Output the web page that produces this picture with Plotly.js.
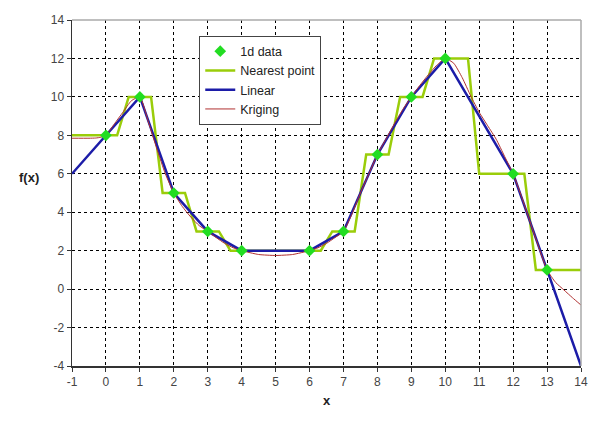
<!DOCTYPE html>
<html>
<head>
<meta charset="utf-8">
<script src="https://cdn.plot.ly/plotly-3.0.1.min.js"></script>
<style>html,body{margin:0;padding:0;background:#fff;}#chart{width:600px;height:423px;}</style>
</head>
<body>
<div id="chart"></div>
<script>
// 1d data points
const dataX = [0, 1, 2, 3, 4, 6, 7, 8, 9, 10, 12, 13];
const dataY = [8, 10, 5, 3, 2, 2, 3, 7, 10, 12, 6, 1];

// Nearest point (sampled step function corners)
const nearestX = [-1, 0.33, 0.67, 1.33, 1.67, 2.33, 2.67, 3.33, 3.67, 6.33, 6.67, 7.33, 7.67, 8.33, 8.67, 9.33, 9.67, 10.67, 11, 12.33, 12.67, 14];
const nearestY = [8, 8, 10, 10, 5, 5, 3, 3, 2, 2, 3, 3, 7, 7, 10, 10, 12, 12, 6, 6, 1, 1];

// Linear interpolation (with extrapolated ends)
const linearX = [-1, 0, 1, 2, 3, 4, 6, 7, 8, 9, 10, 12, 13, 14];
const linearY = [6, 8, 10, 5, 3, 2, 2, 3, 7, 10, 12, 6, 1, -4];

// Kriging curve
const krigX = [-1, -0.5, -0.3, -0.15, 0, 0.25, 0.5, 0.75, 1, 1.25, 1.5, 1.75, 2, 2.25, 2.5, 2.75, 3, 3.25, 3.5, 3.75, 4, 4.5, 5, 5.5, 6, 6.25, 6.5, 6.75, 7, 7.25, 7.5, 7.75, 8, 8.25, 8.5, 8.75, 9, 9.25, 9.5, 9.75, 10, 10.25, 10.5, 10.75, 11, 11.25, 11.5, 11.75, 12, 12.25, 12.5, 12.75, 13, 13.25, 13.5, 13.75, 14];
const krigY = [7.85, 7.85, 7.86, 7.9, 8, 8.6, 9.2, 9.8, 10, 8.7, 7.3, 6.0, 5, 4.3, 3.75, 3.3, 3, 2.68, 2.38, 2.15, 2, 1.8, 1.75, 1.8, 2, 2.15, 2.38, 2.68, 3, 3.9, 5, 6, 7, 7.8, 8.6, 9.35, 10, 10.6, 11.15, 11.65, 12, 11.75, 11.0, 10.05, 9.2, 8.5, 7.8, 6.9, 6, 4.8, 3.5, 2.2, 1, 0.35, -0.05, -0.45, -0.83];

const xTicks = [-1, 0, 1, 2, 3, 4, 5, 6, 7, 8, 9, 10, 11, 12, 13, 14];
const yTicks = [-4, -2, 0, 2, 4, 6, 8, 10, 12, 14];

const traces = [
  {x: nearestX, y: nearestY, mode: 'lines', name: 'Nearest point', legendrank: 2,
   line: {color: '#9ACD0A', width: 2.5}},
  {x: linearX, y: linearY, mode: 'lines', name: 'Linear', legendrank: 3,
   line: {color: '#1C1CA8', width: 2.5}},
  {x: krigX, y: krigY, mode: 'lines', name: 'Kriging', legendrank: 4,
   line: {color: '#B03030', width: 1, shape: 'spline', smoothing: 0.5}},
  {x: dataX, y: dataY, mode: 'markers', name: '1d data', legendrank: 1,
   marker: {symbol: 'diamond', color: '#22DD22', size: 9}}
];

const font = {family: 'Liberation Sans, Arial, sans-serif', size: 12, color: '#444'};

const layout = {
  width: 600, height: 423,
  margin: {l: 72, r: 19, t: 20, b: 57},
  paper_bgcolor: '#fff', plot_bgcolor: '#fff',
  font: font,
  showlegend: true,
  legend: {x: 0.25, y: 0.955, xanchor: 'left', yanchor: 'top', bgcolor: '#fff',
           bordercolor: '#444', borderwidth: 1, font: {family: 'Liberation Sans, Arial, sans-serif', size: 12.5, color: '#222'},
           tracegroupgap: 0, itemwidth: 30},
  xaxis: {range: [-1, 14], tickvals: xTicks, ticktext: xTicks.map(String),
          showgrid: true, gridcolor: '#000', griddash: '3px,3px', gridwidth: 1,
          showline: true, linecolor: '#333', linewidth: 1.5,
          ticks: 'outside', ticklen: 4, tickcolor: '#333', zeroline: false,
          title: {text: '<b>x</b>', font: {size: 13, color: '#222'}, standoff: 8}},
  yaxis: {range: [-4, 14], tickvals: yTicks, ticktext: yTicks.map(String),
          showgrid: true, gridcolor: '#000', griddash: '3px,3px', gridwidth: 1,
          showline: true, linecolor: '#333', linewidth: 1.5,
          ticks: 'outside', ticklen: 4, tickcolor: '#333', zeroline: false},
  shapes: [
    {type: 'line', xref: 'paper', yref: 'paper', x0: 0, x1: 1, y0: 1, y1: 1, line: {color: '#aaa', width: 1.5}, layer: 'above'},
    {type: 'line', xref: 'paper', yref: 'paper', x0: 1, x1: 1, y0: 0, y1: 1, line: {color: '#aaa', width: 1.5}, layer: 'above'}
  ],
  annotations: [
    {text: '<b>f(x)</b>', xref: 'paper', yref: 'y', x: -0.085, y: 5.8, showarrow: false,
     xanchor: 'center', font: {size: 13, color: '#222'}}
  ]
};

Plotly.newPlot('chart', traces, layout, {displayModeBar: false, staticPlot: true});
</script>
</body>
</html>
